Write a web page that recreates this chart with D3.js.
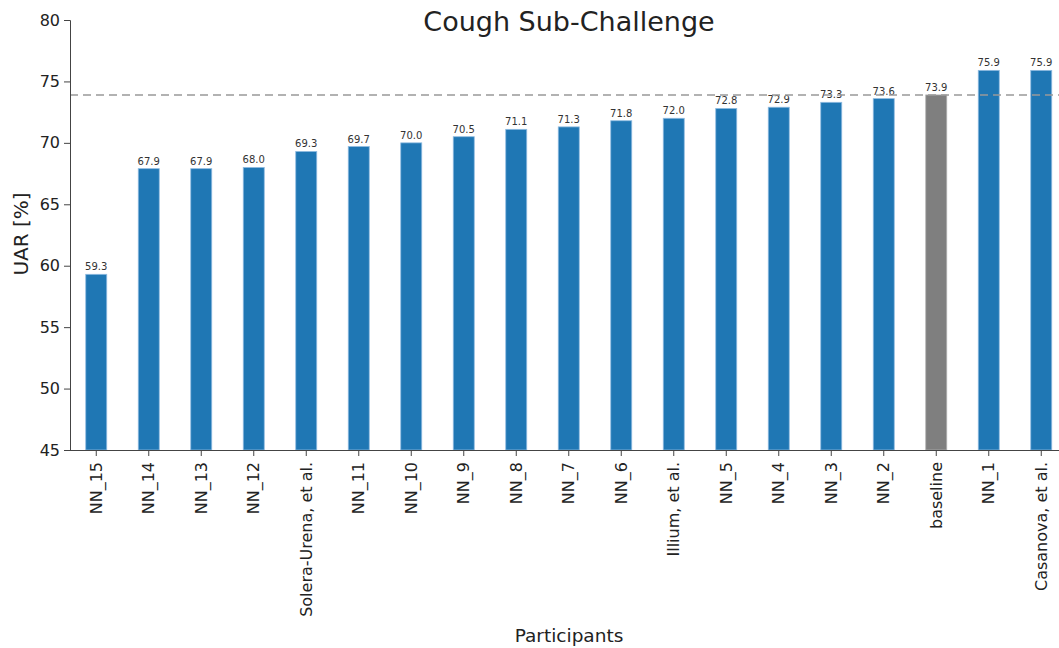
<!DOCTYPE html>
<html>
<head>
<meta charset="utf-8">
<script src="https://cdn.jsdelivr.net/npm/d3@7"></script>
<style>
  body { margin: 0; background: #fff; }
  svg { display: block; font-family: "DejaVu Sans", sans-serif; }
</style>
</head>
<body>
<svg id="chart" width="1059" height="648"></svg>
<script>
const categories = ["NN_15", "NN_14", "NN_13", "NN_12", "Solera-Urena, et al.", "NN_11", "NN_10", "NN_9", "NN_8", "NN_7", "NN_6", "Illium, et al.", "NN_5", "NN_4", "NN_3", "NN_2", "baseline", "NN_1", "Casanova, et al."];
const values = [59.3, 67.9, 67.9, 68.0, 69.3, 69.7, 70.0, 70.5, 71.1, 71.3, 71.8, 72.0, 72.8, 72.9, 73.3, 73.6, 73.9, 75.9, 75.9];
const baselineValue = 73.9;
const yTicks = [45, 50, 55, 60, 65, 70, 75, 80];

const svg = d3.select("#chart");
const mLeft = 70, mRight = 70 + 19 * 52.5, mTop = 20, mBottom = 450;

const x = d3.scaleBand().domain(categories).range([mLeft, mRight]).paddingInner(0.6).paddingOuter(0.3);
const y = d3.scaleLinear().domain([45, 80]).range([mBottom, mTop]);

// bars
svg.append("g").selectAll("rect").data(categories).join("rect")
  .attr("x", d => x(d))
  .attr("width", x.bandwidth())
  .attr("y", (d, i) => y(values[i]))
  .attr("height", (d, i) => y(45) - y(values[i]))
  .attr("fill", d => d === "baseline" ? "#7f7f7f" : "#1f77b4")
  .attr("stroke", d => d === "baseline" ? "#b0b0b0" : "#8fbbe0")
  .attr("stroke-width", 0.8);

// value labels
svg.append("g").selectAll("text").data(categories).join("text")
  .attr("x", d => x(d) + x.bandwidth() / 2)
  .attr("y", (d, i) => y(values[i]) - 4)
  .attr("text-anchor", "middle")
  .attr("font-size", 10)
  .attr("fill", "#333")
  .text((d, i) => values[i].toFixed(1));

// baseline dashed line
svg.append("line")
  .attr("x1", mLeft).attr("x2", 1059)
  .attr("y1", y(baselineValue)).attr("y2", y(baselineValue))
  .attr("stroke", "#999").attr("stroke-width", 1.5)
  .attr("stroke-dasharray", "8,5");

// y axis
const yAxis = svg.append("g").attr("transform", `translate(${mLeft},0)`)
  .call(d3.axisLeft(y).tickValues(yTicks).tickSize(6).tickPadding(4).tickFormat(d3.format("d")));
yAxis.selectAll("text").attr("font-size", 16).attr("fill", "#222").attr("font-family", "DejaVu Sans");
yAxis.selectAll("line, path").attr("stroke", "#444");

// x axis
const xAxis = svg.append("g").attr("transform", `translate(0,${mBottom})`)
  .call(d3.axisBottom(x).tickSize(6).tickSizeOuter(0));
xAxis.select("path").attr("d", `M${mLeft},0.5H1059`);
xAxis.selectAll("line, path").attr("stroke", "#444");
xAxis.selectAll("text")
  .attr("font-size", 16).attr("fill", "#222").attr("font-family", "DejaVu Sans")
  .attr("text-anchor", "end")
  .attr("dy", "0.35em")
  .attr("transform", "rotate(-90)")
  .attr("x", -12).attr("y", 0);

// title
svg.append("text").attr("x", 569).attr("y", 31).attr("text-anchor", "middle")
  .attr("font-size", 27).attr("fill", "#222").text("Cough Sub-Challenge");

// axis labels
svg.append("text").attr("transform", "translate(28,234) rotate(-90)")
  .attr("text-anchor", "middle").attr("font-size", 20).attr("fill", "#222").text("UAR [%]");
svg.append("text").attr("x", 569).attr("y", 642).attr("text-anchor", "middle")
  .attr("font-size", 18.5).attr("fill", "#222").text("Participants");
</script>
</body>
</html>
